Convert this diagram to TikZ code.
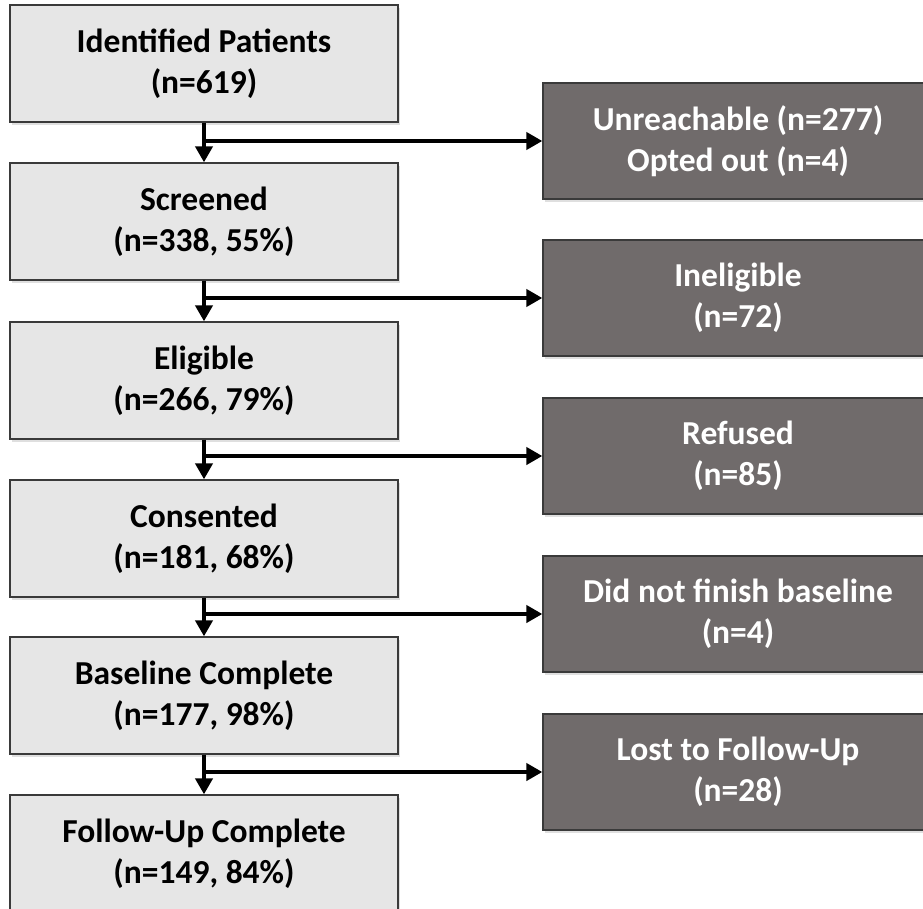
\documentclass[tikz,border=0pt]{standalone}
\usepackage{fontspec}
\setmainfont{Carlito}
\usetikzlibrary{arrows.meta,shadows}
\definecolor{lightbox}{HTML}{E6E6E6}
\definecolor{darkbox}{HTML}{706B6B}
\definecolor{boxline}{HTML}{3A3A3A}
\begin{document}
\begin{tikzpicture}[x=1pt,y=-1pt,
  basebox/.style={draw=boxline, line width=1.3pt, rectangle, inner sep=0pt, align=center,
    font=\fontsize{33.5}{41}\selectfont\bfseries,
    drop shadow={shadow xshift=2pt, shadow yshift=-3pt, opacity=0.25}},
  leftbox/.style={basebox, fill=lightbox, text=black, minimum width=388pt, minimum height=117pt},
  rightbox/.style={basebox, fill=darkbox, text=white, minimum width=390pt, minimum height=116pt},
  arr/.style={line width=4.8pt, -{Triangle[length=16pt,width=17pt]}}
]
\useasboundingbox (0,0) rectangle (923,909);
\node[leftbox] (L1) at (204,63.5) {Identified Patients\\(n=619)};
\node[leftbox] (L2) at (204,221.5) {Screened\\(n=338, 55\%)};
\node[leftbox] (L3) at (204,380.5) {Eligible\\(n=266, 79\%)};
\node[leftbox] (L4) at (204,538.5) {Consented\\(n=181, 68\%)};
\node[leftbox] (L5) at (204,695.5) {Baseline Complete\\(n=177, 98\%)};
\node[leftbox] (L6) at (204,853.5) {Follow-Up Complete\\(n=149, 84\%)};
\node[rightbox] (R1) at (738,141) {Unreachable (n=277)\\Opted out (n=4)};
\node[rightbox] (R2) at (738,298) {Ineligible\\(n=72)};
\node[rightbox] (R3) at (738,456) {Refused\\(n=85)};
\node[rightbox] (R4) at (738,614) {Did not finish baseline\\(n=4)};
\node[rightbox] (R5) at (738,772) {Lost to Follow-Up\\(n=28)};
\foreach \a/\b/\r in {L1/L2/R1, L2/L3/R2, L3/L4/R3, L4/L5/R4, L5/L6/R5} {
  \draw[arr] (\a.south) -- (\b.north);
  \draw[arr] (\a.south |- \r.west) -- (\r.west);
}
\end{tikzpicture}
\end{document}
